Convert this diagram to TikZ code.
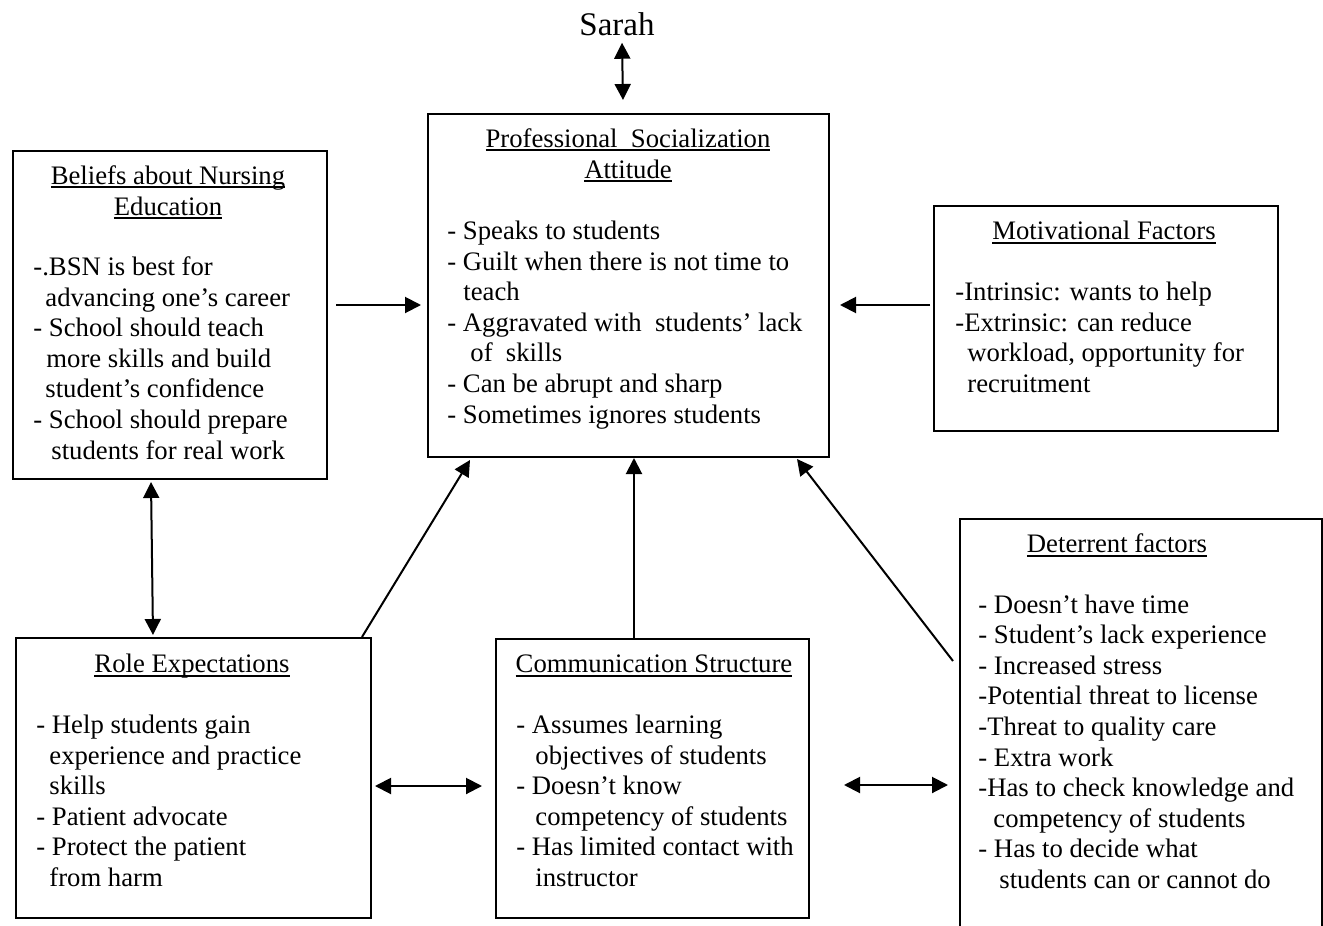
\documentclass[tikz,border=0pt]{standalone}
\usepackage{fontspec}
\setmainfont{Liberation Serif}
\usetikzlibrary{arrows.meta,calc}

% underlined heading with a fixed rule position
\newcommand\ttl[1]{\setbox0\hbox{#1}\rlap{\rule[-2pt]{\wd0}{0.8pt}}\box0}

% one text node per line: x/text pairs, first baseline y, step 30.6
\newcommand\bodylines[4]{%
  \foreach \lx/\txt [count=\k] in {#4}{%
    \node[line, anchor=base west] (#3-\k) at (\lx, {#2+(\k-1)*30.6}) {\txt};
  }%
}

\begin{document}
\begin{tikzpicture}[x=0.5pt, y=-0.5pt,
  every node/.style={font=\fontsize{13.35pt}{15pt}\selectfont},
  panel/.style={draw, line width=1pt, rectangle, inner sep=0pt, anchor=north west},
  line/.style={inner sep=0pt},
  heading/.style={inner sep=0pt, anchor=base},
  conn/.style={line width=1pt, -{Triangle[length=8pt,width=8pt]}},
  both/.style={line width=1pt, {Triangle[length=8pt,width=8pt]}-{Triangle[length=8pt,width=8pt]}}]

\useasboundingbox (0,0) rectangle (1323,926);
\clip (0,0) rectangle (1323,926);

% boxes
\node[panel, minimum width=200.5pt, minimum height=171.5pt] (prof) at (427,113) {};
\node[panel, minimum width=157pt, minimum height=164pt] (beliefs) at (12,150) {};
\node[panel, minimum width=172pt, minimum height=112.5pt] (motiv) at (933,205) {};
\node[panel, minimum width=177.5pt, minimum height=140pt] (role) at (15,637) {};
\node[panel, minimum width=156.5pt, minimum height=139.5pt] (comm) at (495,638) {};
\node[panel, minimum width=181pt, minimum height=211pt] (det) at (959,518) {};

% top label
\node[inner sep=0pt, anchor=base, font=\fontsize{16.5pt}{19pt}\selectfont] (sarah) at (617,35) {Sarah};

% headings
\node[heading] (prof-t1) at (628,147) {\ttl{Professional\ \ Socialization}};
\node[heading] (prof-t2) at (628,178) {\ttl{Attitude}};
\node[heading] (beliefs-t1) at (168,184) {\ttl{Beliefs about Nursing}};
\node[heading] (beliefs-t2) at (168,215) {\ttl{Education}};
\node[heading] (motiv-t) at (1104,239.5) {\ttl{Motivational Factors}};
\node[heading] (role-t) at (192,672.5) {\ttl{Role Expectations}};
\node[heading] (comm-t) at (654,672.5) {\ttl{Communication Structure}};
\node[heading] (det-t) at (1117,552.5) {\ttl{Deterrent factors}};

% box contents
\bodylines{447}{239.5}{prof}{447/{- Speaks to students}, 447/{- Guilt when there is not time to},
  463/{teach}, 447/{- Aggravated with\ \ students’ lack}, 470/{of\ \ skills},
  447/{- Can be abrupt and sharp}, 447/{- Sometimes ignores students}}
\bodylines{33}{275.5}{beliefs}{33/{-.BSN is best for}, 45/{advancing one’s career},
  33/{- School should teach}, 46/{more skills and build}, 45/{student’s confidence},
  33/{- School should prepare}, 51/{students for real work}}
\bodylines{955}{300.5}{motiv}{955/{-Intrinsic: wants to help}, 955/{-Extrinsic: can reduce},
  967/{workload, opportunity for}, 967/{recruitment}}
\bodylines{36}{733.5}{role}{36/{- Help students gain}, 49/{experience and practice},
  49/{skills}, 36/{- Patient advocate}, 36/{- Protect the patient}, 49/{from harm}}
\bodylines{516}{733.5}{comm}{516/{- Assumes learning}, 535/{objectives of students},
  516/{- Doesn’t know}, 535/{competency of students},
  516/{- Has limited contact with}, 535/{instructor}}
\bodylines{978}{613}{det}{978/{- Doesn’t have time}, 978/{- Student’s lack experience},
  978/{- Increased stress}, 978/{-Potential threat to license},
  978/{-Threat to quality care}, 978/{- Extra work},
  978/{-Has to check knowledge and}, 993/{competency of students},
  978/{- Has to decide what}, 999/{students can or cannot do}}

% connectors
\draw[both] ($(sarah.south)+(5,7)$) -- ($(prof.north)+(-5.5,-13)$);
\draw[conn] ($(beliefs.east)+(8,-10)$) -- ($(prof.west)+(-6,19.5)$);
\draw[conn] ($(motiv.west)+(-3,-13.5)$) -- ($(prof.east)+(10,19.5)$);
\draw[both] ($(beliefs.south)+(-19,2)$) -- ($(role.north)+(-40.5,-2)$);
\draw[conn] ($(role.north east)+(-10,0)$) -- ($(prof.south west)+(43,2)$);
\draw[conn] ($(comm.north)+(-18.5,0)$) -- ($(prof.south)+(5.5,0)$);
\draw[conn] ($(det.west)+(-6,-69)$) -- ($(prof.south east)+(-33,1)$);
\draw[both] ($(role.east)+(3,8)$) -- ($(comm.west)+(-13,7.5)$);
\draw[both] ($(comm.east)+(34,6.5)$) -- ($(det.west)+(-11,55)$);

\end{tikzpicture}
\end{document}
